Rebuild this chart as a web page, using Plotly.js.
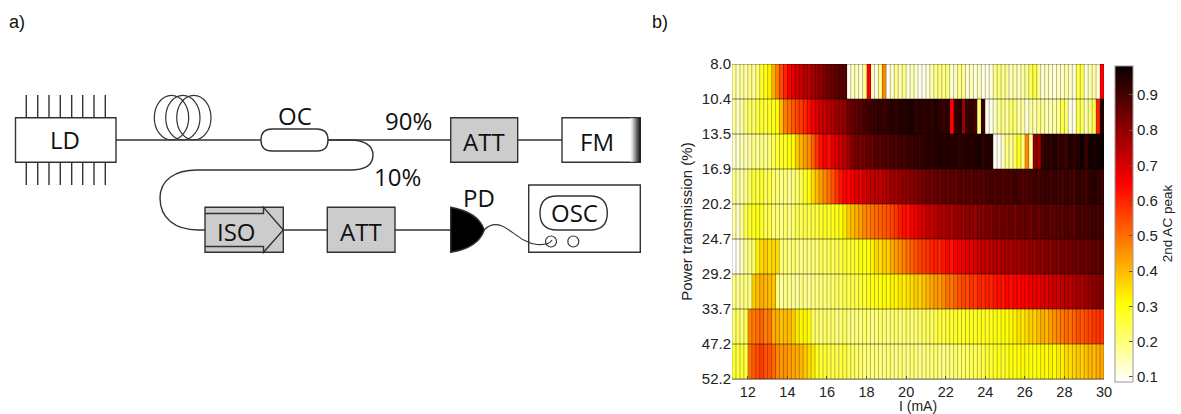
<!DOCTYPE html>
<html>
<head>
<meta charset="utf-8">
<script src="https://cdn.plot.ly/plotly-3.0.1.min.js"></script>
<style>html,body{margin:0;padding:0;background:#fff}#g{width:1181px;height:414px}</style>
</head>
<body>
<div id="g"></div>
<script>
var currentEdges = [11.2,11.4,11.6,11.8,12,12.2,12.4,12.6,12.8,13,13.2,13.4,13.6,13.8,14,14.2,14.4,14.6,14.8,15,
15.2,15.4,15.6,15.8,16,16.2,16.4,16.6,16.8,17,17.2,17.4,17.6,17.8,18,18.2,18.4,18.6,18.8,19,
19.2,19.4,19.6,19.8,20,20.2,20.4,20.6,20.8,21,21.2,21.4,21.6,21.8,22,22.2,22.4,22.6,22.8,23,
23.2,23.4,23.6,23.8,24,24.2,24.4,24.6,24.8,25,25.2,25.4,25.6,25.8,26,26.2,26.4,26.6,26.8,27,
27.2,27.4,27.6,27.8,28,28.2,28.4,28.6,28.8,29,29.2,29.4,29.6,29.8,30];
var rowEdges = [0,1,2,3,4,5,6,7,8,9];
var powerLabels = ["8.0","10.4","13.5","16.9","20.2","24.7","29.2","33.7","47.2","52.2"];
var currentTicks = [12,14,16,18,20,22,24,26,28,30];
var colorTicks = [0.1,0.2,0.3,0.4,0.5,0.6,0.7,0.8,0.9];

var row0 = [.18,.15,.18,.16,.20,.18,.22,.27,.30,.33,.42,.48,.55,.60,.65,.68,.70,.72,.75,.74,
.77,.79,.80,.83,.84,.86,.87,.88,.88,.11,.14,.16,.12,.19,.65,.14,.12,.19,.47,.10,
.13,.19,.15,.20,.11,.16,.13,.10,.11,.12,.16,.19,.20,.19,.20,.12,.15,.19,.19,.12,
.15,.12,.15,.11,.11,.12,.19,.21,.17,.19,.14,.17,.14,.17,.18,.23,.26,.18,.12,.15,
.13,.12,.15,.13,.17,.14,.13,.24,.25,.12,.15,.17,.12,.65];
var row1 = [.17,.14,.17,.20,.23,.22,.25,.27,.26,.28,.29,.31,.40,.48,.50,.53,.56,.57,.60,.63,
.66,.70,.72,.72,.74,.76,.78,.79,.80,.84,.86,.87,.88,.90,.91,.92,.92,.93,.92,.93,
.94,.93,.95,.94,.95,.96,.93,.94,.93,.94,.93,.95,.93,.92,.94,.65,.92,.95,.78,.92,
.93,.90,.20,.91,.10,.11,.14,.18,.20,.16,.22,.21,.16,.18,.11,.18,.15,.19,.18,.16,
.15,.17,.19,.24,.22,.11,.11,.25,.22,.16,.20,.24,.60,.95];
var row2 = [.13,.13,.16,.15,.17,.19,.18,.20,.19,.21,.24,.26,.28,.28,.30,.31,.38,.41,.44,.46,
.52,.58,.63,.66,.63,.68,.70,.72,.74,.78,.82,.84,.83,.85,.86,.86,.88,.87,.89,.88,
.90,.89,.91,.90,.92,.91,.93,.92,.93,.94,.93,.94,.95,.94,.95,.94,.95,.93,.94,.95,
.94,.95,.96,.93,.95,.94,.10,.10,.14,.20,.18,.22,.29,.20,.47,.17,.80,.78,.92,.94,
.93,.95,.92,.93,.91,.95,.93,.94,.98,.92,.97,.96,.97,.98];
var row3 = [.19,.17,.16,.19,.23,.26,.25,.27,.23,.25,.21,.22,.19,.21,.18,.20,.22,.24,.27,.30,
.36,.40,.44,.47,.50,.54,.58,.62,.65,.64,.67,.69,.68,.70,.72,.73,.74,.73,.75,.76,
.78,.77,.79,.80,.80,.81,.82,.83,.84,.85,.84,.86,.85,.87,.86,.87,.86,.88,.87,.88,
.87,.89,.88,.88,.89,.90,.89,.90,.88,.90,.89,.91,.90,.88,.89,.90,.91,.90,.91,.92,
.90,.92,.91,.90,.92,.91,.90,.93,.92,.91,.93,.94,.93,.92];
var row4 = [.16,.14,.18,.24,.27,.28,.30,.27,.24,.25,.20,.22,.19,.22,.20,.21,.24,.23,.25,.24,
.26,.25,.27,.28,.27,.29,.28,.31,.34,.38,.40,.42,.44,.47,.48,.50,.51,.52,.53,.54,
.56,.58,.61,.63,.62,.65,.67,.69,.70,.73,.72,.74,.76,.75,.77,.76,.78,.79,.78,.80,
.81,.79,.82,.81,.83,.82,.84,.83,.85,.84,.85,.83,.86,.85,.86,.84,.87,.85,.87,.88,
.86,.87,.88,.87,.89,.88,.87,.90,.89,.90,.90,.91,.90,.91];
var row5 = [.09,.10,.15,.18,.20,.22,.33,.36,.38,.35,.37,.36,.20,.22,.19,.22,.20,.18,.21,.19,
.21,.20,.24,.21,.25,.22,.25,.24,.27,.26,.28,.26,.31,.29,.30,.33,.36,.35,.38,.37,
.42,.44,.46,.48,.50,.52,.54,.56,.57,.58,.60,.61,.60,.62,.64,.62,.65,.66,.67,.69,
.68,.70,.71,.73,.72,.74,.75,.74,.76,.77,.76,.78,.77,.79,.78,.80,.79,.81,.80,.82,
.81,.83,.82,.84,.83,.84,.85,.84,.86,.85,.86,.87,.86,.88];
var row6 = [.19,.18,.20,.19,.20,.38,.40,.42,.41,.40,.39,.21,.17,.20,.18,.19,.17,.20,.19,.18,
.20,.19,.21,.20,.22,.21,.23,.22,.25,.24,.25,.24,.27,.26,.29,.28,.30,.29,.31,.30,
.33,.32,.34,.33,.35,.36,.38,.37,.39,.41,.43,.45,.44,.47,.50,.49,.52,.54,.56,.55,
.58,.57,.60,.59,.61,.60,.62,.63,.62,.64,.63,.65,.64,.66,.65,.67,.68,.67,.70,.69,
.71,.72,.71,.73,.75,.74,.76,.77,.76,.78,.79,.80,.81,.82];
var row7 = [.21,.23,.20,.24,.47,.49,.50,.52,.48,.49,.42,.42,.39,.40,.40,.38,.34,.32,.32,.31,
.22,.22,.20,.23,.21,.22,.19,.21,.23,.20,.19,.21,.20,.22,.21,.19,.20,.22,.21,.20,
.21,.22,.20,.21,.22,.20,.21,.22,.22,.24,.22,.25,.26,.25,.27,.26,.27,.28,.27,.29,
.28,.28,.29,.29,.28,.29,.30,.29,.31,.30,.32,.33,.35,.34,.36,.38,.37,.40,.42,.41,
.44,.46,.47,.49,.51,.50,.52,.54,.53,.55,.56,.57,.58,.58];
var row8 = [.26,.25,.27,.25,.50,.53,.55,.57,.54,.53,.51,.47,.45,.46,.44,.43,.42,.41,.38,.36,
.34,.28,.26,.27,.25,.25,.24,.25,.26,.23,.23,.21,.22,.20,.21,.19,.21,.20,.19,.21,
.20,.19,.21,.20,.19,.21,.20,.19,.19,.21,.20,.22,.20,.19,.21,.20,.22,.21,.23,.22,
.24,.23,.25,.24,.27,.26,.28,.29,.27,.28,.31,.29,.30,.32,.30,.31,.29,.31,.32,.30,
.33,.31,.34,.33,.36,.35,.37,.38,.37,.39,.41,.40,.42,.43];

var zRows = [row0,row1,row2,row3,row4,row5,row6,row7,row8];
var hotReversed = [[0,'#ffffff'],[0.25,'#ffff00'],[0.625,'#ff0000'],[1,'#0a0000']];

var W = 1181, H = 414;
var sansDiagram = 'Open Sans, Noto Sans, sans-serif';
var sansPlot = 'Liberation Sans, Arial, sans-serif';
var ink = '#333333';

var vx = [], vy = [], hx = [], hy = [];
currentEdges.forEach(function(c){ vx.push(c,c,null); vy.push(0,9,null); });
rowEdges.forEach(function(r){ hx.push(11.2,30,null); hy.push(r,r,null); });

var traces = [
 {type:'heatmap', x:currentEdges, y:rowEdges, z:zRows, zmin:0.087, zmax:0.983,
  colorscale:hotReversed, hoverinfo:'skip',
  colorbar:{x:1115/W, xanchor:'left', y:1-65.5/H, yanchor:'top', lenmode:'pixels', len:316,
   thicknessmode:'pixels', thickness:18, xpad:0, ypad:0, outlinecolor:'#999', outlinewidth:1,
   tickmode:'array', tickvals:colorTicks, ticks:'inside', ticklen:4, tickcolor:'#555',
   tickfont:{family:sansPlot,size:15,color:'#222'},
   title:{text:'2nd AC peak', side:'right', font:{family:sansPlot,size:13.5,color:'#222'}}}},
 {type:'scatter', mode:'lines', x:vx, y:vy, line:{color:'rgba(0,0,0,0.28)',width:1}, hoverinfo:'skip', showlegend:false, connectgaps:false},
 {type:'scatter', mode:'lines', x:hx, y:hy, line:{color:'rgba(0,0,0,0.5)',width:1}, hoverinfo:'skip', showlegend:false, connectgaps:false},
 {type:'scatter', mode:'markers', xaxis:'x2', yaxis:'y2', x:[0], y:[0], marker:{size:1,opacity:0}, hoverinfo:'skip', showlegend:false}
];

function rect(x0,y0,x1,y1,fill,col,w){return {type:'rect',xref:'x2',yref:'y2',x0:x0,y0:y0,x1:x1,y1:y1,fillcolor:fill||'rgba(0,0,0,0)',line:{color:col||ink,width:w===undefined?1.4:w},layer:'above'};}
function path(d,fill,w){return {type:'path',xref:'x2',yref:'y2',path:d,fillcolor:fill||'rgba(0,0,0,0)',line:{color:ink,width:w||1.4},layer:'above'};}
function circ(x0,y0,x1,y1,fill){return {type:'circle',xref:'x2',yref:'y2',x0:x0,y0:y0,x1:x1,y1:y1,fillcolor:fill||'rgba(0,0,0,0)',line:{color:ink,width:1.2},layer:'above'};}

var shapes = [];
[26.3,37.7,49,60.3,71.7,82.7,94,105.3].forEach(function(p){
  shapes.push(path('M'+p+' 95 L'+p+' 118'));
  shapes.push(path('M'+p+' 162 L'+p+' 185'));
});
shapes.push(rect(15.5,117.7,116,162.3,'#fff'));
shapes.push(path('M116 140 L261 140'));
shapes.push(circ(154.3,95.3,188.7,140));
shapes.push(circ(165.7,95.3,200,140));
shapes.push(circ(176.7,95.3,211,140));
shapes.push(path('M272 129 L317 129 Q328 129 328 140 Q328 151 317 151 L272 151 Q261 151 261 140 Q261 129 272 129 Z','#fff'));
shapes.push(path('M328 140 L451 140'));
shapes.push(path('M328 140 L350 140 C365 140 373 146 373 155 C373 165 365 170 350 170 L197 170 C175 170 160 180 160 198 C160 218 175 230 198 230 L205 230'));
shapes.push(rect(205,207.3,283.3,252.3,'#cccccc'));
shapes.push(path('M205 213.5 L263.5 213.5 L263.5 207.3 L283.3 230 L263.5 252.3 L263.5 246.5 L205 246.5'));
shapes.push(path('M283.3 230 L327.3 230'));
shapes.push(rect(327.3,207.3,395,252.3,'#cccccc'));
shapes.push(path('M395 230 L451 230'));
shapes.push(path('M450.7 207.3 Q478 212 484.3 230 Q478 248 450.7 252.3 Z','#000000'));
shapes.push(rect(450.7,117.7,517.7,162.3,'#cccccc'));
shapes.push(path('M517.7 140 L562 140'));
shapes.push(rect(562,117.7,640.3,162.3,'#fff'));
var fmShades = ['#f4f4f4','#e0e0e0','#c8c8c8','#a8a8a8','#888888','#666666','#444444','#222222','#111111','#000000'];
fmShades.forEach(function(c,i){ shapes.push(rect(630.3+i,118,631.3+i,162,c,c,0)); });
shapes.push(rect(528.7,185,640.3,252.3,'#fff'));
shapes.push(path('M557 196 L590 196 Q607.3 196 607.3 213 Q607.3 230 590 230 L557 230 Q540 230 540 213 Q540 196 557 196 Z'));
shapes.push(circ(545.5,236,556.5,247));
shapes.push(circ(567.8,236,578.8,247));
shapes.push(path('M484 230 C490 224 497 224 502 226 C512 230 522 243 537 244.5 C545 245 550 244 552 240',null,1.1));

function lab(t,x,y,size,fam,anchor){return {text:t,xref:'x2',yref:'y2',x:x,y:y,showarrow:false,xanchor:anchor||'center',yanchor:'middle',font:{family:fam||sansDiagram,size:size||24,color:'#111'}};}
var annotations = [
 lab('a)',7,22,18,sansPlot,'left'), lab('b)',650,22,18,sansPlot,'left'),
 lab('LD',65,139), lab('OC',295,115.5), lab('90%',408,120), lab('10%',397.7,176),
 lab('ATT',484,141), lab('FM',596.7,141), lab('ISO',236,231), lab('ATT',361,231),
 lab('PD',478.7,197.5), lab('OSC',574,212)
];

var layout = {
 width:W, height:H, margin:{l:0,r:0,t:0,b:0}, paper_bgcolor:'#fff', plot_bgcolor:'rgba(0,0,0,0)', showlegend:false,
 xaxis:{domain:[732/W,1104/W], range:[11.2,30], tickmode:'array', tickvals:currentTicks, ticks:'inside', ticklen:3, tickcolor:'#555',
   showgrid:false, zeroline:false, showline:true, linecolor:'#999', linewidth:1, anchor:'y',
   tickfont:{family:sansPlot,size:14.5,color:'#222'}, title:{text:'I (mA)', standoff:1, font:{family:sansPlot,size:14,color:'#222'}}},
 yaxis:{domain:[1-379/H,1-64/H], range:[9,0], tickmode:'array', tickvals:rowEdges, ticktext:powerLabels, ticks:'',
   showgrid:false, zeroline:false, showline:false, anchor:'x',
   tickfont:{family:sansPlot,size:15,color:'#222'}, title:{text:'Power transmission (%)', standoff:5, font:{family:sansPlot,size:15,color:'#222'}}},
 xaxis2:{domain:[0,1], range:[0,W], visible:false, fixedrange:true, anchor:'y2'},
 yaxis2:{domain:[0,1], range:[H,0], visible:false, fixedrange:true, anchor:'x2'},
 shapes:shapes, annotations:annotations
};
Plotly.newPlot('g', traces, layout, {displayModeBar:false, staticPlot:true});
</script>
</body>
</html>
